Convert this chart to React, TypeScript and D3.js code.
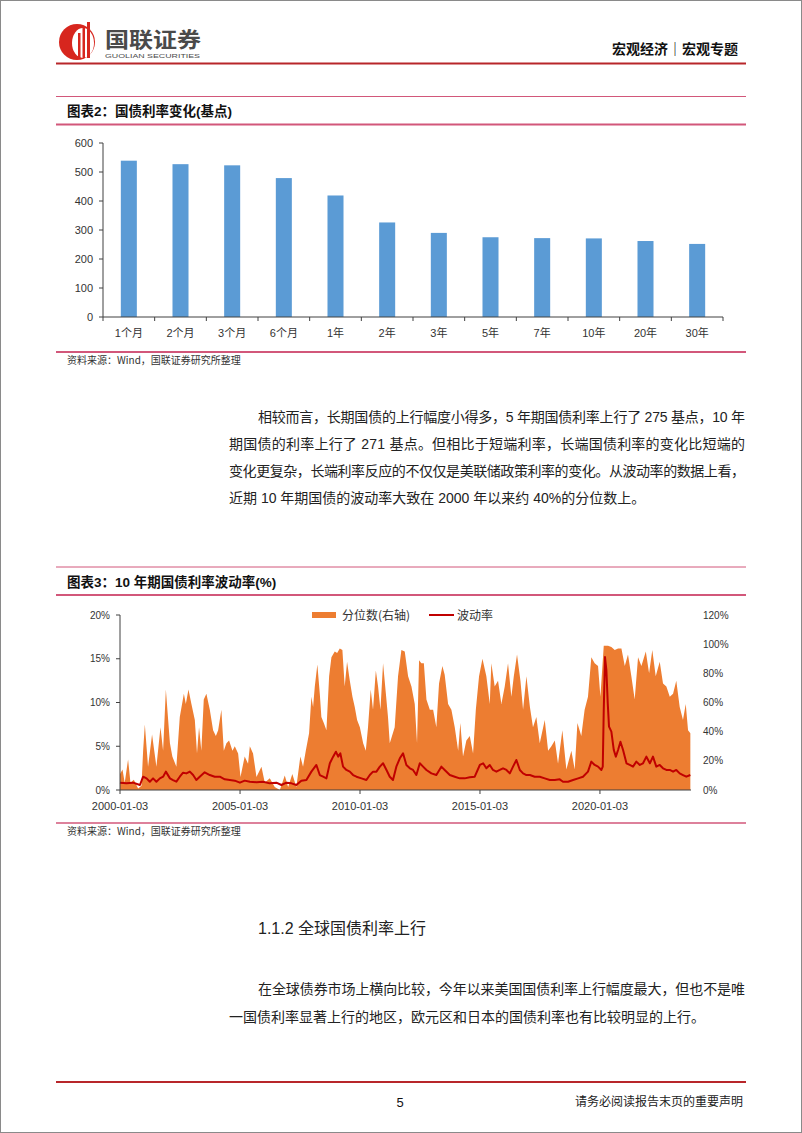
import React from "react";
import * as d3 from "d3";

// 图表2 data
const termLabels = ["1个月", "2个月", "3个月", "6个月", "1年", "2年", "3年", "5年", "7年", "10年", "20年", "30年"];
const termChanges = [539, 527, 523, 479, 419, 326, 290, 275, 272, 271, 262, 252];
const changeTicks = [0, 100, 200, 300, 400, 500, 600];

// 图表3 data
const volTicks = [0, 5, 10, 15, 20];
const pctTicks = [0, 20, 40, 60, 80, 100, 120];
const dateTicks = ["2000-01-03", "2005-01-03", "2010-01-03", "2015-01-03", "2020-01-03"];

const percentileSeries: [string, number][] = [
  ["2000-01-03", 11], ["2000-02-10", 14], ["2000-03-15", 5], ["2000-05-05", 21], ["2000-06-10", 5],
  ["2000-08-01", 7], ["2000-10-05", 1], ["2000-11-25", 3], ["2000-12-20", 27], ["2001-01-15", 45],
  ["2001-03-05", 16], ["2001-05-05", 38], ["2001-07-10", 16], ["2001-09-10", 43], ["2001-10-20", 27],
  ["2001-12-01", 69], ["2002-02-01", 32], ["2002-03-10", 23], ["2002-05-10", 16], ["2002-07-01", 50],
  ["2002-09-01", 66], ["2002-10-01", 59], ["2002-11-10", 69], ["2002-12-25", 59], ["2003-02-15", 48],
  ["2003-03-20", 25], ["2003-04-20", 43], ["2003-05-25", 27], ["2003-07-01", 62], ["2003-08-10", 66],
  ["2003-10-01", 55], ["2003-11-20", 41], ["2004-01-01", 37], ["2004-02-05", 41], ["2004-03-25", 55],
  ["2004-05-01", 27], ["2004-06-10", 32], ["2004-07-20", 34], ["2004-09-10", 27], ["2004-10-15", 30],
  ["2004-12-05", 25], ["2005-01-10", 9], ["2005-03-15", 23], ["2005-05-05", 18], ["2005-06-01", 30],
  ["2005-07-20", 25], ["2005-09-10", 9], ["2005-11-25", 16], ["2006-01-15", 5], ["2006-04-01", 8],
  ["2006-06-15", 2], ["2006-09-01", 0], ["2006-11-15", 10], ["2007-01-05", 2], ["2007-03-10", 11],
  ["2007-05-10", 2], ["2007-07-10", 23], ["2007-08-20", 16], ["2007-10-01", 27], ["2007-11-20", 39],
  ["2007-12-25", 64], ["2008-01-20", 57], ["2008-02-15", 71], ["2008-03-25", 86], ["2008-05-01", 66],
  ["2008-05-25", 50], ["2008-07-01", 46], ["2008-08-10", 41], ["2008-09-20", 78], ["2008-10-25", 91],
  ["2008-12-15", 95], ["2009-01-20", 94], ["2009-03-01", 97], ["2009-04-10", 96], ["2009-05-15", 71],
  ["2009-06-20", 88], ["2009-08-01", 75], ["2009-09-10", 64], ["2009-10-15", 57], ["2009-11-20", 48],
  ["2010-01-01", 43], ["2010-02-20", 32], ["2010-04-01", 27], ["2010-05-05", 43], ["2010-06-15", 69],
  ["2010-07-20", 55], ["2010-09-01", 82], ["2010-10-05", 71], ["2010-11-10", 55], ["2010-12-20", 87],
  ["2011-02-01", 66], ["2011-03-05", 50], ["2011-04-01", 32], ["2011-06-15", 43], ["2011-08-05", 78],
  ["2011-09-25", 96], ["2011-11-15", 95], ["2012-01-05", 78], ["2012-02-25", 71], ["2012-04-15", 59],
  ["2012-05-20", 32], ["2012-06-20", 89], ["2012-07-25", 87], ["2012-09-01", 87], ["2012-10-10", 62],
  ["2012-12-01", 55], ["2013-01-20", 55], ["2013-03-10", 43], ["2013-04-20", 73], ["2013-06-10", 85],
  ["2013-07-15", 79], ["2013-09-05", 59], ["2013-10-25", 55], ["2013-12-15", 43], ["2014-02-05", 27],
  ["2014-03-10", 46], ["2014-04-20", 23], ["2014-06-10", 34], ["2014-08-01", 37], ["2014-09-20", 25],
  ["2014-11-01", 55], ["2014-12-20", 78], ["2015-02-10", 90], ["2015-04-10", 78], ["2015-06-01", 59],
  ["2015-06-25", 87], ["2015-08-15", 71], ["2015-10-05", 75], ["2015-11-25", 59], ["2016-01-15", 71],
  ["2016-03-05", 87], ["2016-04-25", 64], ["2016-06-01", 78], ["2016-07-20", 93], ["2016-09-10", 75],
  ["2016-10-20", 55], ["2016-12-10", 78], ["2017-02-01", 57], ["2017-03-20", 43], ["2017-05-10", 50],
  ["2017-07-01", 32], ["2017-09-15", 48], ["2017-11-05", 27], ["2017-12-25", 30], ["2018-02-15", 34],
  ["2018-04-05", 18], ["2018-06-10", 41], ["2018-08-10", 14], ["2018-10-25", 27], ["2018-12-15", 14],
  ["2019-01-25", 46], ["2019-03-25", 37], ["2019-05-15", 55], ["2019-07-05", 64], ["2019-08-25", 91],
  ["2019-10-15", 87], ["2019-12-05", 85], ["2020-01-10", 64], ["2020-03-01", 99], ["2020-05-05", 99],
  ["2020-06-25", 98], ["2020-08-15", 96], ["2020-10-05", 97], ["2020-11-25", 97], ["2021-01-15", 85],
  ["2021-03-05", 93], ["2021-04-25", 78], ["2021-06-15", 62], ["2021-08-05", 91], ["2021-09-25", 85],
  ["2021-12-01", 95], ["2022-01-20", 80], ["2022-03-10", 96], ["2022-05-01", 78], ["2022-07-01", 88],
  ["2022-08-20", 73], ["2022-10-10", 71], ["2022-12-01", 64], ["2023-01-20", 66], ["2023-03-10", 75],
  ["2023-05-01", 57], ["2023-06-20", 48], ["2023-08-01", 59], ["2023-09-05", 41], ["2023-10-10", 39],
];

const volatilitySeries: [string, number][] = [
  ["2000-01-03", 0.84], ["2000-04-10", 0.76], ["2000-07-20", 0.84], ["2000-11-01", 0.57], ["2000-12-20", 1.52],
  ["2001-02-10", 1.33], ["2001-04-01", 0.95], ["2001-05-20", 1.33], ["2001-07-10", 0.95], ["2001-09-01", 1.33],
  ["2001-10-20", 1.52], ["2001-12-01", 2.1], ["2002-02-01", 1.33], ["2002-03-20", 1.14], ["2002-05-10", 0.95],
  ["2002-07-01", 1.52], ["2002-08-20", 1.98], ["2002-10-10", 1.9], ["2002-12-01", 2.1], ["2003-01-20", 1.71],
  ["2003-03-10", 1.14], ["2003-05-01", 1.52], ["2003-07-15", 2.02], ["2003-10-01", 1.71], ["2003-12-15", 1.52],
  ["2004-03-01", 1.52], ["2004-05-15", 1.22], ["2004-08-01", 1.14], ["2004-10-15", 1.07], ["2005-01-01", 0.84],
  ["2005-03-15", 1.07], ["2005-06-01", 0.95], ["2005-09-10", 0.88], ["2005-12-20", 0.95], ["2006-04-01", 0.76],
  ["2006-07-10", 0.84], ["2006-09-25", 0.57], ["2006-12-10", 0.84], ["2007-02-25", 0.76], ["2007-05-10", 0.57],
  ["2007-07-25", 1.07], ["2007-10-10", 1.14], ["2007-12-25", 2.1], ["2008-03-10", 2.86], ["2008-05-01", 1.71],
  ["2008-06-20", 1.52], ["2008-08-10", 1.33], ["2008-10-01", 3.05], ["2008-11-20", 3.81], ["2009-01-01", 4.38],
  ["2009-02-05", 3.81], ["2009-03-10", 4.19], ["2009-04-20", 2.67], ["2009-06-10", 2.29], ["2009-08-01", 2.1],
  ["2009-09-20", 1.71], ["2009-11-10", 1.52], ["2010-01-25", 1.33], ["2010-04-10", 1.14], ["2010-06-01", 1.71],
  ["2010-07-20", 2.1], ["2010-09-10", 2.1], ["2010-11-01", 2.67], ["2010-12-20", 3.05], ["2011-02-10", 2.29],
  ["2011-04-01", 1.52], ["2011-05-20", 1.14], ["2011-07-10", 2.67], ["2011-09-01", 3.62], ["2011-10-20", 4.19],
  ["2011-12-10", 2.86], ["2012-02-01", 2.48], ["2012-03-20", 2.29], ["2012-05-10", 1.71], ["2012-07-01", 3.05],
  ["2012-08-20", 2.67], ["2012-10-10", 2.29], ["2012-12-25", 1.9], ["2013-03-10", 1.71], ["2013-05-25", 2.67],
  ["2013-07-15", 2.29], ["2013-10-01", 1.71], ["2013-12-15", 1.52], ["2014-03-01", 1.33], ["2014-05-15", 1.33],
  ["2014-08-01", 1.45], ["2014-10-15", 1.52], ["2015-01-01", 2.86], ["2015-02-20", 3.05], ["2015-04-10", 2.48],
  ["2015-06-01", 2.86], ["2015-07-20", 2.29], ["2015-09-10", 2.1], ["2015-11-01", 2.29], ["2015-12-20", 2.48],
  ["2016-02-10", 2.29], ["2016-04-01", 1.9], ["2016-05-20", 2.67], ["2016-07-10", 3.43], ["2016-09-01", 2.29],
  ["2016-10-20", 1.9], ["2016-12-10", 1.71], ["2017-02-01", 1.71], ["2017-04-15", 1.52], ["2017-07-01", 1.52],
  ["2017-09-15", 1.33], ["2017-12-01", 1.14], ["2018-02-15", 1.14], ["2018-05-01", 1.22], ["2018-06-20", 0.95],
  ["2018-09-05", 0.95], ["2018-11-20", 1.14], ["2019-02-05", 1.33], ["2019-04-20", 1.52], ["2019-07-05", 2.1],
  ["2019-08-25", 3.24], ["2019-10-15", 2.86], ["2019-12-05", 2.67], ["2020-01-25", 2.29], ["2020-02-15", 2.67],
  ["2020-03-01", 9.14], ["2020-03-20", 15.2], ["2020-04-10", 13.7], ["2020-05-01", 9.9], ["2020-05-20", 7.24],
  ["2020-06-25", 6.67], ["2020-08-01", 4.57], ["2020-09-01", 3.81], ["2020-10-05", 4.57], ["2020-11-10", 5.52],
  ["2020-12-20", 4.57], ["2021-02-10", 3.05], ["2021-04-01", 2.86], ["2021-05-20", 2.67], ["2021-07-10", 3.24],
  ["2021-09-01", 2.86], ["2021-10-20", 3.05], ["2021-12-10", 3.81], ["2022-02-01", 3.05], ["2022-03-20", 3.81],
  ["2022-05-10", 2.67], ["2022-07-01", 2.86], ["2022-08-20", 2.48], ["2022-10-10", 2.29], ["2022-12-01", 2.29],
  ["2023-01-20", 2.1], ["2023-03-10", 2.29], ["2023-05-01", 1.9], ["2023-06-20", 1.71], ["2023-08-10", 1.52],
  ["2023-10-10", 1.71],
];

const para1 = [
  "相较而言，长期国债的上行幅度小得多，5 年期国债利率上行了 275 基点，10 年",
  "期国债的利率上行了 271 基点。但相比于短端利率，长端国债利率的变化比短端的",
  "变化更复杂，长端利率反应的不仅仅是美联储政策利率的变化。从波动率的数据上看，",
  "近期 10 年期国债的波动率大致在 2000 年以来约 40%的分位数上。",
];
const para2 = [
  "在全球债券市场上横向比较，今年以来美国国债利率上行幅度最大，但也不是唯",
  "一国债利率显著上行的地区，欧元区和日本的国债利率也有比较明显的上行。",
];

const FONT = "'Liberation Sans', 'Noto Sans CJK SC', sans-serif";
const CJK = "'Noto Sans CJK SC', sans-serif";
const RED = "#b8262a";
const PINK = "#d2577a";
const BLUE = "#5b9bd5";
const ORANGE = "#ed7d31";
const DARKRED = "#c00000";

const parse = d3.timeParse("%Y-%m-%d");

const BarChart = () => {
  const x = d3.scaleBand<string>().domain(termLabels).range([103, 723]).paddingInner(0.69).paddingOuter(0.345);
  const y = d3.scaleLinear().domain([0, 600]).range([317, 143]);
  const step = x.step();
  const bounds = d3.range(termLabels.length + 1).map((i) => 103 + i * step);
  return (
    <g fontFamily={FONT} fontSize={11} fill="#333">
      {termLabels.map((t, i) => (
        <rect key={t} x={x(t)} y={y(termChanges[i])} width={x.bandwidth()} height={y(0) - y(termChanges[i])} fill={BLUE} />
      ))}
      <line x1={103} x2={103} y1={y(600)} y2={y(0)} stroke="#404040" />
      {changeTicks.map((t) => (
        <g key={t}>
          <line x1={99} x2={103} y1={y(t)} y2={y(t)} stroke="#404040" />
          <text x={93} y={y(t) + 4} textAnchor="end">{t}</text>
        </g>
      ))}
      <line x1={103} x2={723} y1={y(0)} y2={y(0)} stroke="#404040" />
      {bounds.map((b, i) => (
        <line key={i} x1={b} x2={b} y1={y(0)} y2={y(0) + 4} stroke="#404040" />
      ))}
      {termLabels.map((t) => (
        <text key={t} x={(x(t) ?? 0) + x.bandwidth() / 2} y={336.5} textAnchor="middle" fontFamily={FONT}>{t}</text>
      ))}
    </g>
  );
};

const VolChart = () => {
  const x = d3.scaleTime().domain([parse("2000-01-03")!, parse("2023-10-20")!]).range([120, 691]);
  const yL = d3.scaleLinear().domain([0, 20]).range([790, 615]);
  const yR = d3.scaleLinear().domain([0, 120]).range([790, 615]);
  const pct = percentileSeries.map(([d, v]) => [parse(d)!, v] as [Date, number]);
  const vol = volatilitySeries.map(([d, v]) => [parse(d)!, v] as [Date, number]);
  const area = d3.area<[Date, number]>().x((d) => x(d[0])).y0(yR(0)).y1((d) => yR(d[1]));
  const line = d3.line<[Date, number]>().x((d) => x(d[0])).y((d) => yL(d[1]));
  return (
    <g fontFamily={FONT} fontSize={10} fill="#333">
      <path d={area(pct) ?? ""} fill={ORANGE} />
      <path d={line(vol) ?? ""} fill="none" stroke={DARKRED} strokeWidth={2} strokeLinejoin="round" />
      <line x1={120} x2={120} y1={615} y2={790} stroke="#404040" />
      {volTicks.map((t) => (
        <g key={t}>
          <line x1={116} x2={120} y1={yL(t)} y2={yL(t)} stroke="#404040" />
          <text x={110} y={yL(t) + 3.5} textAnchor="end">{t}%</text>
        </g>
      ))}
      {pctTicks.map((t) => (
        <text key={t} x={703} y={yR(t) + 3.5}>{t}%</text>
      ))}
      <line x1={120} x2={691} y1={790} y2={790} stroke="#404040" />
      {dateTicks.map((d) => (
        <g key={d}>
          <line x1={x(parse(d)!)} x2={x(parse(d)!)} y1={790} y2={794} stroke="#404040" />
          <text x={x(parse(d)!)} y={810} textAnchor="middle" fontSize={11}>{d}</text>
        </g>
      ))}
      <rect x={312} y={612} width={24} height={6} fill={ORANGE} />
      <text x={342} y={619.5} fontFamily={CJK} fontSize={12}>分位数(右轴)</text>
      <line x1={429} x2={454} y1={615} y2={615} stroke={DARKRED} strokeWidth={2} />
      <text x={457} y={619.5} fontFamily={CJK} fontSize={12}>波动率</text>
    </g>
  );
};

const Logo = () => (
  <g>
    <circle cx={77} cy={42} r={18} fill="#d7261e" />
    <ellipse cx={83} cy={43} rx={11} ry={15} fill="#fff" />
    <rect x={78} y={33} width={2.5} height={25} fill="#d7261e" />
    <rect x={82.5} y={28} width={2.5} height={30} fill="#d7261e" />
    <rect x={87} y={22} width={3} height={36} fill="#d7261e" />
    <text x={105} y={47} fontFamily={CJK} fontSize={21} fontWeight={700} fill="#4a4a4a" textLength={96} lengthAdjust="spacingAndGlyphs">国联证券</text>
    <text x={105} y={57.5} fontFamily={FONT} fontSize={6} fill="#4a4a4a" textLength={95} lengthAdjust="spacingAndGlyphs">GUOLIAN SECURITIES</text>
  </g>
);

const App = () => {
  const pLines = [421.5, 449, 476, 503];
  return (
    <div style={{ position: "absolute", left: 0, top: 0 }}>
      <svg width={802} height={1133} style={{ display: "block", background: "#fff" }}>
        <rect x={0.5} y={0.5} width={801} height={1132} fill="#fff" stroke="#8a8a8a" />
        <Logo />
        <text x={612} y={53.5} fontFamily={CJK} fontSize={14} fontWeight={700} fill="#111">宏观经济｜宏观专题</text>
        <line x1={56} x2={746} y1={63.5} y2={63.5} stroke={RED} strokeWidth={2} />

        <line x1={56} x2={746} y1={96.5} y2={96.5} stroke={PINK} strokeWidth={1} />
        <text x={67} y={116} fontFamily={FONT} fontSize={13.5} fontWeight={700} fill="#111">图表2：国债利率变化(基点)</text>
        <line x1={56} x2={746} y1={124.5} y2={124.5} stroke={PINK} strokeWidth={2} />
        <BarChart />
        <line x1={56} x2={746} y1={352} y2={352} stroke={PINK} strokeWidth={2} />
        <text x={67} y={364} fontFamily={CJK} fontSize={10} fill="#333">资料来源：Wind，国联证券研究所整理</text>

        <g fontFamily={FONT} fontSize={14} fill="#222">
          {para1.map((l, i) => (
            <text key={i} x={i === 0 ? 258 : 229} y={pLines[i]} textLength={i < 3 ? (i === 0 ? 487 : 516) : undefined} lengthAdjust="spacing">{l}</text>
          ))}
        </g>

        <line x1={56} x2={746} y1={567} y2={567} stroke={PINK} strokeWidth={1} />
        <text x={67} y={587} fontFamily={FONT} fontSize={13.5} fontWeight={700} fill="#111">图表3：10 年期国债利率波动率(%)</text>
        <line x1={56} x2={746} y1={595} y2={595} stroke={PINK} strokeWidth={2} />
        <VolChart />
        <line x1={56} x2={746} y1={823} y2={823} stroke={PINK} strokeWidth={1.5} />
        <text x={67} y={835} fontFamily={CJK} fontSize={10} fill="#333">资料来源：Wind，国联证券研究所整理</text>

        <text x={258} y={934} fontFamily={FONT} fontSize={16} fill="#222">1.1.2 全球国债利率上行</text>
        <g fontFamily={FONT} fontSize={14} fill="#222">
          <text x={258} y={994} textLength={487} lengthAdjust="spacing">{para2[0]}</text>
          <text x={229} y={1022}>{para2[1]}</text>
        </g>

        <line x1={56} x2={746} y1={1082} y2={1082} stroke={RED} strokeWidth={2} />
        <text x={400} y={1106.5} textAnchor="middle" fontFamily={FONT} fontSize={13} fill="#111">5</text>
        <text x={743} y={1106} textAnchor="end" fontFamily={CJK} fontSize={12} fill="#222">请务必阅读报告末页的重要声明</text>
      </svg>
    </div>
  );
};

export default App;
